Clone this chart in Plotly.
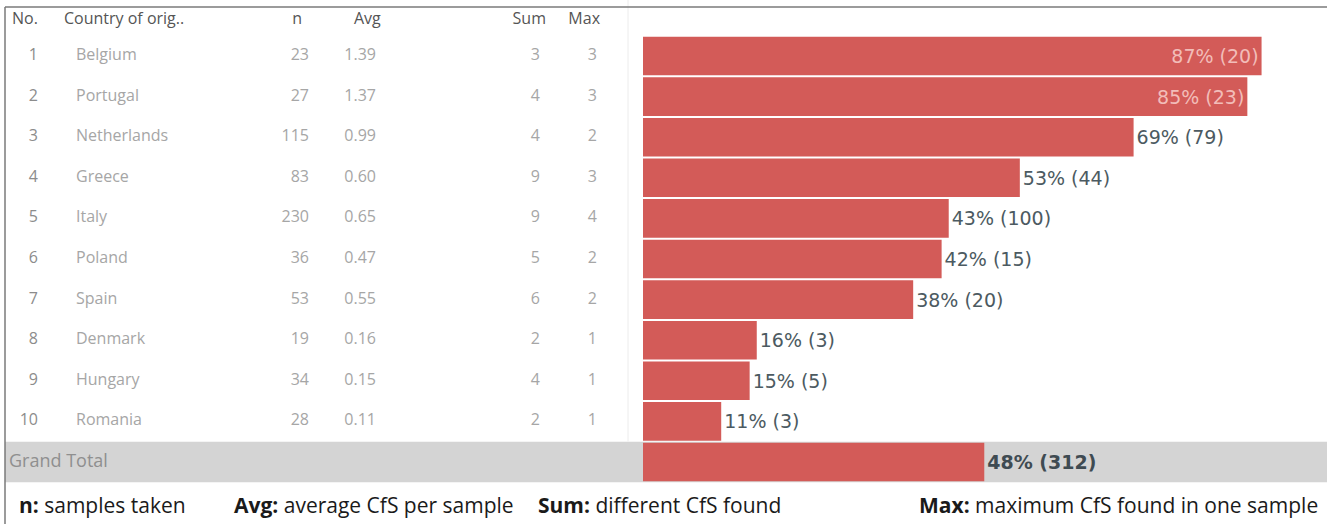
import plotly.graph_objects as go

RANKS = list(range(1, 11))
COUNTRIES = ["Belgium", "Portugal", "Netherlands", "Greece", "Italy",
             "Poland", "Spain", "Denmark", "Hungary", "Romania"]
N_SAMPLES = [23, 27, 115, 83, 230, 36, 53, 19, 34, 28]
AVG_CFS = ["1.39", "1.37", "0.99", "0.60", "0.65", "0.47", "0.55", "0.16", "0.15", "0.11"]
SUM_CFS = [3, 4, 4, 9, 9, 5, 6, 2, 4, 2]
MAX_CFS = [3, 3, 2, 3, 4, 2, 2, 1, 1, 1]
PCT_POSITIVE = [87, 85, 69, 53, 43, 42, 38, 16, 15, 11]
N_POSITIVE = [20, 23, 79, 44, 100, 15, 20, 3, 5, 3]
TOTAL_PCT = 48
TOTAL_POSITIVE = 312

HEADERS = ["No.", "Country of orig..", "n", "Avg", "Sum", "Max"]

# Style
W, H = 1327, 524
BAR_RED = "#d35b58"
TEXT_LIGHT = "#a6a6a6"
TEXT_RANK = "#8c8c8c"
TEXT_HEAD = "#555555"
LABEL_DARK = "#4c5a61"
BAND_GRAY = "#d4d4d4"
FONT_TABLE = "Open Sans"
FONT_LABEL = "DejaVu Sans"
FONT_FOOT = "Open Sans"

# Row geometry (pixels) used to set the y axis range
ROW1_PX = 56
ROW_PITCH = 40.6
BAR_LEFT_PX = 643
PX_PER_PCT = 7.11


def px(v):
    return v / W


def row_val(pixel_y):
    # convert a pixel height into the row-index scale of the y axis
    return 1 + (pixel_y - ROW1_PX) / ROW_PITCH


fig = go.Figure()

# table columns on a pixel-scaled x axis
y_rows = RANKS
columns = [
    (38, "middle left", [str(r) for r in RANKS], TEXT_RANK),
    (76, "middle right", COUNTRIES, TEXT_LIGHT),
    (309, "middle left", [str(v) for v in N_SAMPLES], TEXT_LIGHT),
    (376, "middle left", AVG_CFS, TEXT_LIGHT),
    (540, "middle left", [str(v) for v in SUM_CFS], TEXT_LIGHT),
    (597, "middle left", [str(v) for v in MAX_CFS], TEXT_LIGHT),
]
for xpos, pos, texts, color in columns:
    fig.add_trace(go.Scatter(
        x=[xpos] * len(texts), y=y_rows, mode="text", text=texts,
        textposition=pos, textfont=dict(family=FONT_TABLE, size=16, color=color),
        hoverinfo="skip", showlegend=False, xaxis="x", yaxis="y"
    ))

# header row
head_pos = [(12, "middle right"), (64, "middle right"), (302, "middle left"),
            (354, "middle right"), (546, "middle left"), (600, "middle left")]
fig.add_trace(go.Scatter(
    x=[p[0] for p in head_pos], y=[row_val(20)] * len(HEADERS), mode="text", text=HEADERS,
    textposition=[p[1] for p in head_pos],
    textfont=dict(family=FONT_TABLE, size=16, color=TEXT_HEAD),
    hoverinfo="skip", showlegend=False, xaxis="x", yaxis="y"
))

# grand total label
fig.add_trace(go.Scatter(
    x=[9], y=[11], mode="text", text=["Grand Total"], textposition="middle right",
    textfont=dict(family=FONT_TABLE, size=18, color="#8f8f8f"),
    hoverinfo="skip", showlegend=False, xaxis="x", yaxis="y"
))

# bars
labels = [f"{p}% ({c})" for p, c in zip(PCT_POSITIVE, N_POSITIVE)]
inside = [p >= 80 for p in PCT_POSITIVE]
fig.add_trace(go.Bar(
    x=PCT_POSITIVE, y=y_rows, orientation="h", width=0.95,
    marker=dict(color=BAR_RED, line=dict(width=0)),
    text=labels,
    textposition=["inside" if i else "outside" for i in inside],
    insidetextanchor="end",
    textfont=dict(family=FONT_LABEL, size=19,
                  color=["#f2bdb9" if i else LABEL_DARK for i in inside]),
    cliponaxis=False, hoverinfo="skip", showlegend=False, xaxis="x2", yaxis="y"
))
fig.add_trace(go.Bar(
    x=[TOTAL_PCT], y=[11], orientation="h", width=0.95,
    marker=dict(color=BAR_RED, line=dict(width=0)),
    text=[f"<b>{TOTAL_PCT}% ({TOTAL_POSITIVE})</b>"], textposition="outside",
    textfont=dict(family=FONT_LABEL, size=19, color="#3f4b52"),
    cliponaxis=False, hoverinfo="skip", showlegend=False, xaxis="x2", yaxis="y"
))

y_top = row_val(0)
y_bot = row_val(H)

shapes = [
    # grand total band
    dict(type="rect", xref="paper", yref="y", x0=px(5), x1=1, y0=10.5, y1=11.5,
         fillcolor=BAND_GRAY, line=dict(width=0), layer="below"),
    # light divider before the bar pane
    dict(type="line", xref="paper", yref="y", x0=px(628), x1=px(628), y0=y_top, y1=10.5,
         line=dict(color="#ececec", width=1), layer="below"),
    # outer frame
    dict(type="line", xref="paper", yref="paper", x0=px(5), x1=1, y0=1 - 7 / H, y1=1 - 7 / H,
         line=dict(color="#7a7a7a", width=1.5)),
    dict(type="line", xref="paper", yref="paper", x0=px(5), x1=px(5), y0=0, y1=1 - 7 / H,
         line=dict(color="#7a7a7a", width=1.5)),
]

foot_y = 1 - 505 / H
footer = [
    (17, "left", "<b>n:</b> samples taken"),
    (232, "left", "<b>Avg:</b> average CfS per sample"),
    (536, "left", "<b>Sum:</b> different CfS found"),
    (1320, "right", "<b>Max:</b> maximum CfS found in one sample"),
]
annotations = [
    dict(x=px(xp), y=foot_y, xref="paper", yref="paper", text=t, showarrow=False,
         xanchor=anc, yanchor="middle",
         font=dict(family=FONT_FOOT, size=21, color="#1a1a1a"))
    for xp, anc, t in footer
]

fig.update_layout(
    width=W, height=H,
    margin=dict(l=0, r=0, t=0, b=0),
    paper_bgcolor="white", plot_bgcolor="rgba(0,0,0,0)",
    barmode="overlay",
    xaxis=dict(domain=[0, px(BAR_LEFT_PX)], range=[0, BAR_LEFT_PX], visible=False, fixedrange=True),
    xaxis2=dict(domain=[px(BAR_LEFT_PX), 1], range=[0, (W - BAR_LEFT_PX) / PX_PER_PCT],
                visible=False, fixedrange=True, anchor="y"),
    yaxis=dict(range=[y_bot, y_top], visible=False, fixedrange=True),
    shapes=shapes,
    annotations=annotations,
)

# drop the default page margin so the figure sits at the window origin
fig.write_html("out.html", config={"displayModeBar": False},
               post_script="document.body.style.margin='0';")
